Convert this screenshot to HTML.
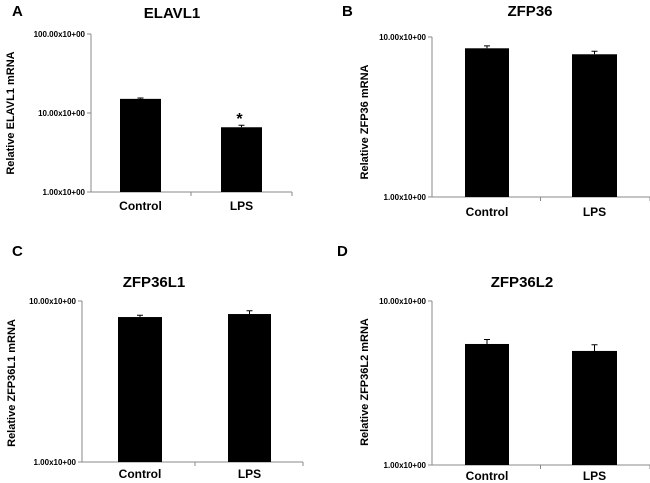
<!DOCTYPE html>
<html><head><meta charset="utf-8"><style>
body{margin:0;background:#fff}
svg{display:block;font-family:"Liberation Sans",sans-serif}
</style></head><body>
<svg id="fig" width="650" height="483" viewBox="0 0 650 483"></svg>
<script>
const categories = ["Control","LPS"];
const elavl1Values = [15.1, 6.6];
const elavl1Errors = [0.4, 0.4];
const zfp36Values = [8.5, 7.8];
const zfp36Errors = [0.3, 0.35];
const zfp36l1Values = [7.95, 8.3];
const zfp36l1Errors = [0.2, 0.4];
const zfp36l2Values = [5.47, 4.96];
const zfp36l2Errors = [0.35, 0.45];
const ticksA = [1, 10, 100];
const tickLabelsA = ["1.00x10+00","10.00x10+00","100.00x10+00"];
const ticksB = [1, 10];
const tickLabelsB = ["1.00x10+00","10.00x10+00"];

const svg = document.getElementById('fig');
const NS = 'http://www.w3.org/2000/svg';
function mk(tag, attrs, parent){const e=document.createElementNS(NS,tag);for(const k in attrs)e.setAttribute(k,attrs[k]);(parent||svg).appendChild(e);return e;}

const panels = [
 {id:'a',letter:'A',lx:12,ly:16,title:'ELAVL1',tx:172,ty:18,ax:91,top:34,bot:192,right:292,min:1,max:100,bars:[[120,161],[221,262]],vals:elavl1Values,errs:elavl1Errors,ticks:ticksA,tl:tickLabelsA,ylab:'Relative ELAVL1 mRNA',ylx:10,yly:113,caty:210,star:1},
 {id:'b',letter:'B',lx:342,ly:16,title:'ZFP36',tx:530,ty:16,ax:432,top:37,bot:197,right:650,min:1,max:10,bars:[[465,509],[572,617]],vals:zfp36Values,errs:zfp36Errors,ticks:ticksB,tl:tickLabelsB,ylab:'Relative ZFP36 mRNA',ylx:364,yly:122,caty:216},
 {id:'c',letter:'C',lx:12,ly:256,title:'ZFP36L1',tx:154,ty:287,ax:82,top:301,bot:462,right:303,min:1,max:10,bars:[[118,162],[228,271]],vals:zfp36l1Values,errs:zfp36l1Errors,ticks:ticksB,tl:tickLabelsB,ylab:'Relative ZFP36L1 mRNA',ylx:11,yly:383,caty:478},
 {id:'d',letter:'D',lx:337,ly:256,title:'ZFP36L2',tx:522,ty:287,ax:432,top:301,bot:465,right:650,min:1,max:10,bars:[[465,509],[572,617]],vals:zfp36l2Values,errs:zfp36l2Errors,ticks:ticksB,tl:tickLabelsB,ylab:'Relative ZFP36L2 mRNA',ylx:364,yly:382,caty:480}
];

panels.forEach(p=>{
  const g = mk('g',{});
  
  
  const y = v => p.bot - (Math.log10(v)-Math.log10(p.min))/(Math.log10(p.max)-Math.log10(p.min))*(p.bot-p.top);
  let t = mk('text',{x:p.lx,y:p.ly,'font-size':15,'font-weight':'bold'},g); t.textContent=p.letter;
   
  t = mk('text',{x:p.tx,y:p.ty,'font-size':15,'font-weight':'bold','text-anchor':'middle'},g); t.textContent=p.title;
   
  t = mk('text',{x:p.ylx,y:p.yly,'font-size':11,'font-weight':'bold','text-anchor':'middle',transform:`rotate(-90 ${p.ylx} ${p.yly})`,dy:4},g); t.textContent=p.ylab;
   
  let l = mk('line',{x1:p.ax,y1:p.top,x2:p.ax,y2:p.bot,stroke:'#888','stroke-width':1},g);
   
  l = mk('line',{x1:p.ax,y1:p.bot,x2:p.right,y2:p.bot,stroke:'#888','stroke-width':1},g);
   
  p.ticks.forEach((v,i)=>{
    const ty=y(v);
    const tk = mk('line',{x1:p.ax-4,y1:ty,x2:p.ax,y2:ty,stroke:'#888'},g);
     
    const tt = mk('text',{x:p.ax-6,y:ty+3,'font-size':8,'font-weight':'bold','text-anchor':'end'},g); tt.textContent=p.tl[i];
     
  });
  const mid=(p.bars[0][1]+p.bars[1][0])/2;
  [mid,p.right].forEach(x=>{const tk=mk('line',{x1:x,y1:p.bot,x2:x,y2:p.bot+4,stroke:'#888'},g);
     });
  categories.forEach((c,i)=>{
    const [x0,x1]=p.bars[i]; const cx=(x0+x1)/2; const v=p.vals[i]; const e=p.errs[i];
    const r=mk('rect',{x:x0,y:y(v),width:x1-x0,height:p.bot-y(v),fill:'#000'},g);
     
    const ey=y(v+e);
    const el=mk('path',{d:`M${cx} ${y(v)}V${ey}M${cx-3} ${ey}H${cx+3}`,stroke:'#000','stroke-width':1,fill:'none'},g);
     
    const ct=mk('text',{x:cx,y:p.caty,'font-size':12,'font-weight':'bold','text-anchor':'middle'},g); ct.textContent=c;
     
    if(p.star===i){const s=mk('text',{x:cx-2,y:ey-1,'font-size':16,'font-weight':'bold','text-anchor':'middle'},g); s.textContent='*';
       }
  });
});
</script>
</body></html>
